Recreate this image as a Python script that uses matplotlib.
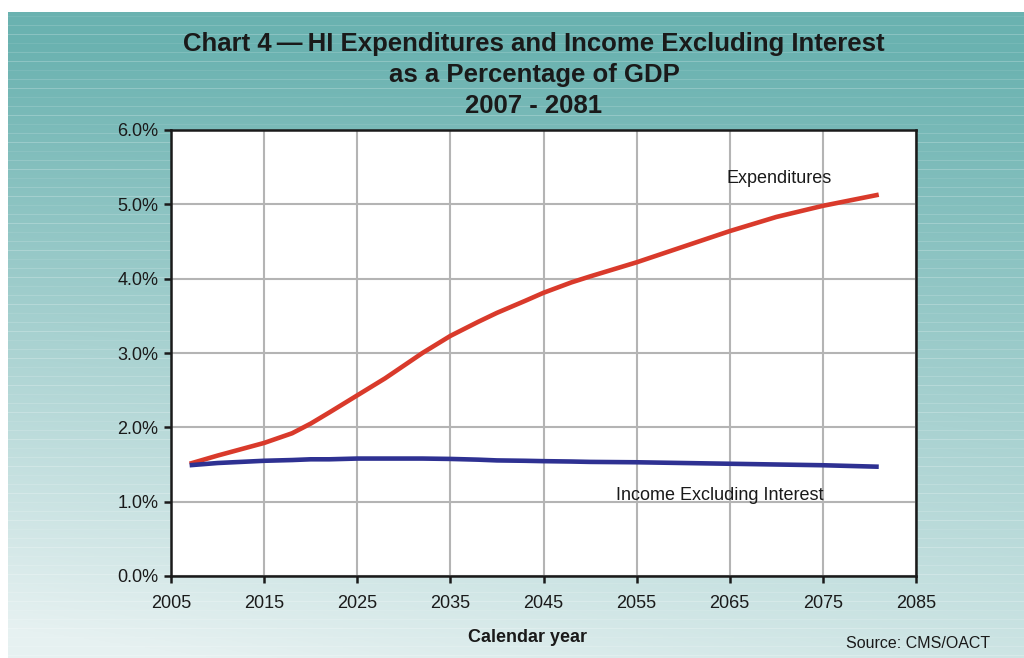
import numpy as np
import matplotlib
import matplotlib.pyplot as plt
from matplotlib.ticker import FuncFormatter

matplotlib.use("Agg")
plt.rcParams["font.family"] = ["Liberation Sans", "DejaVu Sans"]

# HI projections, percent of GDP
years = [2007, 2010, 2015, 2018, 2020, 2022, 2025, 2028, 2030, 2032, 2035,
         2038, 2040, 2043, 2045, 2048, 2050, 2055, 2060, 2065, 2070, 2075, 2081]
expenditures = [1.51, 1.62, 1.79, 1.92, 2.05, 2.20, 2.43, 2.66, 2.83, 3.00, 3.23,
                3.42, 3.54, 3.70, 3.81, 3.95, 4.03, 4.22, 4.43, 4.64, 4.83, 4.98, 5.13]
income_ex_int = [1.49, 1.52, 1.55, 1.56, 1.57, 1.57, 1.58, 1.58, 1.58, 1.58, 1.575,
                 1.565, 1.555, 1.55, 1.545, 1.54, 1.535, 1.53, 1.52, 1.51, 1.50, 1.49, 1.47]

x_ticks = list(range(2005, 2086, 10))
y_ticks = [0, 1, 2, 3, 4, 5, 6]

W, H = 1024, 658
fig = plt.figure(figsize=(W / 100, H / 100), dpi=100)

# teal-to-pale background with thin light streaks
bg = fig.add_axes([8 / W, 0, 1 - 8 / W, 1 - 12 / H])
bg.set_axis_off()
rows, cols = 646, 200
yy = np.linspace(0, 1, rows)[:, None]
xx = np.linspace(0, 1, cols)[None, :]
t = np.clip(0.85 * yy + 0.25 * yy * (1 - xx) - 0.05, 0, 1)
top = np.array([0x6a, 0xb2, 0xb0]) / 255
bot = np.array([0xe6, 0xf1, 0xf1]) / 255
img = top[None, None, :] * (1 - t[..., None]) + bot[None, None, :] * t[..., None]
streak = np.zeros(rows)
for k, r in enumerate(range(4, rows, 9)):
    streak[r] = 0.08 + 0.07 * ((k * 7) % 3)
img = img + (1 - img) * streak[:, None, None]
bg.imshow(np.clip(img, 0, 1), aspect="auto", extent=[0, 1, 0, 1], origin="upper")
bg.set_xlim(0, 1)
bg.set_ylim(0, 1)

ax = fig.add_axes([171 / W, 1 - 576 / H, (916 - 171) / W, (576 - 130) / H])
ax.set_facecolor("white")
ax.plot(years, expenditures, color="#d93a2b", lw=3.3, solid_capstyle="butt", zorder=3)
ax.plot(years, income_ex_int, color="#2e3192", lw=3.3, solid_capstyle="butt", zorder=3)

ax.set_xlim(2005, 2085)
ax.set_ylim(0, 6)
ax.set_xticks(x_ticks)
ax.set_yticks(y_ticks)
ax.yaxis.set_major_formatter(FuncFormatter(lambda v, p: f"{v:.1f}%"))
ax.grid(True, color="#b4b4b4", lw=1.5)
ax.set_axisbelow(True)
for s in ax.spines.values():
    s.set_color("#1a1a1a")
    s.set_linewidth(1.8)
ax.tick_params(axis="both", direction="out", length=5, width=1.8, color="#1a1a1a",
               labelsize=13, labelcolor="#1a1a1a")
ax.tick_params(axis="x", pad=9)
ax.tick_params(axis="y", pad=4)

ax.text(2064.6, 5.35, "Expenditures", fontsize=13, color="#1a1a1a", va="center")
ax.text(2052.8, 1.08, "Income Excluding Interest", fontsize=13, color="#1a1a1a", va="center")

fig.text(534 / W, 1 - 75 / H,
         "Chart 4\u2009\u2014\u2009HI Expenditures and Income Excluding Interest\n"
         "as a Percentage of GDP\n2007 - 2081",
         ha="center", va="center", fontsize=18.5, fontweight="bold", color="#1a1a1a",
         linespacing=1.38)
fig.text(528 / W, 1 - 638 / H, "Calendar year", ha="center", va="center",
         fontsize=13, fontweight="bold", color="#1a1a1a")
fig.text(918 / W, 1 - 643 / H, "Source: CMS/OACT", ha="center", va="center",
         fontsize=11.5, color="#1a1a1a")

fig.savefig("out.png", dpi=100, facecolor="white")
